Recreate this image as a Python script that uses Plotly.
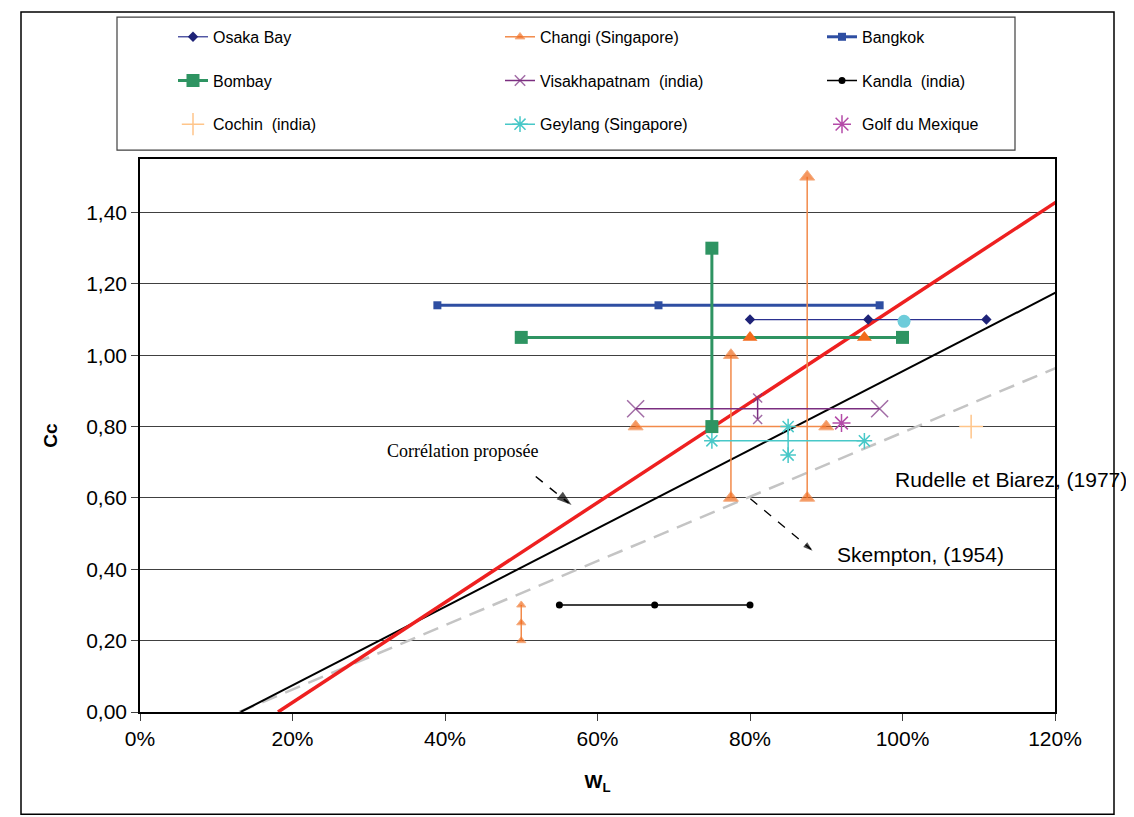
import plotly.graph_objects as go

# ---------------- data ----------------
osaka_x = [0.80, 0.955, 1.11]
osaka_y = [1.10, 1.10, 1.10]

changi_x = [0.65, 0.90, None, 0.775, 0.775, None, 0.875, 0.875, None, 0.50, 0.50, 0.50]
changi_y = [0.80, 0.80, None, 0.60, 1.00, None, 0.60, 1.50, None, 0.20, 0.25, 0.30]
changi_s = [13, 13, 0, 13, 13, 0, 13, 13, 0, 8, 8, 8]
changi_top_x = [0.80, 0.95]
changi_top_y = [1.05, 1.05]

bangkok_x = [0.39, 0.68, 0.97]
bangkok_y = [1.14, 1.14, 1.14]

bombay_x = [0.50, 1.00, None, 0.75, 0.75]
bombay_y = [1.05, 1.05, None, 0.80, 1.30]

visak_x = [0.65, 0.97, None, 0.81, 0.81]
visak_y = [0.85, 0.85, None, 0.82, 0.88]
visak_s = [17, 17, 0, 9, 9]

kandla_x = [0.55, 0.675, 0.80]
kandla_y = [0.30, 0.30, 0.30]

cochin_x = [1.09]
cochin_y = [0.80]

geylang_x = [0.75, 0.95, None, 0.85, 0.85]
geylang_y = [0.76, 0.76, None, 0.72, 0.80]

golf_x = [0.92]
golf_y = [0.81]

extra_x = [1.002]
extra_y = [1.095]

# correlation lines (end points)
prop_x = [0.181, 1.214]
prop_y = [0.0, 1.447]
rud_x = [0.132, 1.214]
rud_y = [0.0, 1.19]
skem_x = [0.13, 1.214]
skem_y = [0.0, 0.976]

x_ticks = [0.0, 0.2, 0.4, 0.6, 0.8, 1.0, 1.2]
x_tick_labels = ["0%", "20%", "40%", "60%", "80%", "100%", "120%"]
y_ticks = [0.0, 0.2, 0.4, 0.6, 0.8, 1.0, 1.2, 1.4]
y_tick_labels = ["0,00", "0,20", "0,40", "0,60", "0,80", "1,00", "1,20", "1,40"]

# ---------------- figure ----------------
W, H = 1134, 817
OFF = 8  # page body margin
ML, MT = 140 - OFF, 155 - OFF
MR, MB = W - (1055 - OFF), H - (712 - OFF)
PW, PH = W - ML - MR, H - MT - MB

def px_x(p):
    return (p - OFF - ML) / PW

def px_y(p):
    return (H - MB - (p - OFF)) / PH

fig = go.Figure()

# regression lines (underneath)
fig.add_trace(go.Scatter(x=skem_x, y=skem_y, mode="lines", showlegend=False,
                         line=dict(color="#C4C4C4", width=2.5, dash="16px,9px")))
fig.add_trace(go.Scatter(x=rud_x, y=rud_y, mode="lines", showlegend=False,
                         line=dict(color="#000000", width=2)))
fig.add_trace(go.Scatter(x=prop_x, y=prop_y, mode="lines", showlegend=False,
                         line=dict(color="#EE2020", width=3.5)))

font_main = "Liberation Sans, Arial, sans-serif"

# legend layout: rows & columns (screen pixel positions of item origins)
row_y = [32, 76, 120]
col_x = [173, 500, 822]

def leg_name(i):
    return "legend" if i == 0 else "legend%d" % (i + 1)

series = []

series.append(dict(name="Osaka Bay", x=osaka_x, y=osaka_y, mode="lines+markers",
                   line=dict(color="#2B3190", width=1.2),
                   marker=dict(symbol="diamond", size=8, color="#1E2378")))
series.append(dict(name="Changi (Singapore)", x=changi_x, y=changi_y, mode="lines+markers",
                   line=dict(color="#F28A4A", width=1.5),
                   marker=dict(symbol="triangle-up", size=changi_s, color="#F26A1B")))
series.append(dict(name="Bangkok", x=bangkok_x, y=bangkok_y, mode="lines+markers",
                   line=dict(color="#2E4EA2", width=3),
                   marker=dict(symbol="square", size=8, color="#2E4EA2")))
series.append(dict(name="Bombay", x=bombay_x, y=bombay_y, mode="lines+markers",
                   line=dict(color="#2E9462", width=3),
                   marker=dict(symbol="square", size=13, color="#2E9462")))
series.append(dict(name="Visakhapatnam  (india)", x=visak_x, y=visak_y, mode="lines+markers",
                   line=dict(color="#7B2E80", width=1.5),
                   marker=dict(symbol="x-thin-open", size=visak_s, color="#7B2E80",
                               line=dict(color="#7B2E80", width=1.5))))
series.append(dict(name="Kandla  (india)", x=kandla_x, y=kandla_y, mode="lines+markers",
                   line=dict(color="#000000", width=1.5),
                   marker=dict(symbol="circle", size=7, color="#000000")))
series.append(dict(name="Cochin  (india)", x=cochin_x, y=cochin_y, mode="markers",
                   marker=dict(symbol="cross-thin-open", size=17, color="#FFC58A",
                               line=dict(color="#FFC58A", width=1.5))))
series.append(dict(name="Geylang (Singapore)", x=geylang_x, y=geylang_y, mode="lines+markers",
                   line=dict(color="#48C8C8", width=1.5),
                   marker=dict(symbol="asterisk-open", size=13, color="#48C8C8",
                               line=dict(color="#48C8C8", width=1.5))))
series.append(dict(name="Golf du Mexique", x=golf_x, y=golf_y, mode="markers",
                   marker=dict(symbol="asterisk-open", size=15, color="#B44BA8",
                               line=dict(color="#B44BA8", width=1.5))))

draw_order = [0, 2, 1, 3, 4, 5, 6, 7, 8]
for i in draw_order:
    s = series[i]
    fig.add_trace(go.Scatter(x=s["x"], y=s["y"], name=s["name"], mode=s["mode"],
                             line=s.get("line"), marker=s["marker"],
                             legend=leg_name(i), connectgaps=False))

# Changi triangles that sit on top of the Bombay line
fig.add_trace(go.Scatter(x=changi_top_x, y=changi_top_y, mode="markers", showlegend=False,
                         marker=dict(symbol="triangle-up", size=13, color="#F26A1B")))
# isolated light-blue point
fig.add_trace(go.Scatter(x=extra_x, y=extra_y, mode="markers", showlegend=False,
                         marker=dict(symbol="circle", size=13, color="#6DCCDA")))

# arrow heads (markers rotated along the arrow direction)
arrow_x = [0.566, 0.882]
arrow_y = [0.580, 0.452]
arrow_angle = [129, 130]
arrow_size = [16, 10]
fig.add_trace(go.Scatter(x=arrow_x, y=arrow_y, mode="markers", showlegend=False,
                         cliponaxis=False,
                         marker=dict(symbol="arrow", size=arrow_size, angle=arrow_angle,
                                     color="#000000", line=dict(width=0))))

legends = {}
for i in range(9):
    r, c = divmod(i, 3)
    legends[leg_name(i)] = dict(
        x=px_x(col_x[c]), y=px_y(row_y[r]), xanchor="left", yanchor="middle",
        orientation="v", bgcolor="rgba(0,0,0,0)", borderwidth=0,
        font=dict(family=font_main, size=16, color="#000000"),
        itemwidth=30, tracegroupgap=0)

annotations = [
    dict(x=0.423, y=0.732, xref="x", yref="y", text="Corrélation proposée", showarrow=False,
         font=dict(family="Liberation Serif, Times New Roman, serif", size=18, color="#000000")),
    dict(x=0.988, y=0.651, xref="x", yref="y", text="Rudelle et Biarez, (1977)", showarrow=False,
         xanchor="left", font=dict(family=font_main, size=21, color="#000000")),
    dict(x=0.911, y=0.4425, xref="x", yref="y", text="Skempton, (1954)", showarrow=False,
         xanchor="left", font=dict(family=font_main, size=21, color="#000000")),
]

shapes = [
    # outer chart frame
    dict(type="rect", xref="paper", yref="paper", x0=px_x(21), x1=px_x(1114), y0=px_y(815), y1=px_y(7),
         line=dict(color="#000000", width=1.5), fillcolor="rgba(0,0,0,0)", layer="below"),
    # legend frame
    dict(type="rect", xref="paper", yref="paper", x0=px_x(117), x1=px_x(1015), y0=px_y(146), y1=px_y(12),
         line=dict(color="#404040", width=1.2), fillcolor="rgba(0,0,0,0)", layer="below"),
    # dashed arrow shafts
    dict(type="line", xref="x", yref="y", x0=0.519, y0=0.660, x1=0.562, y1=0.586,
         line=dict(color="#000000", width=1.5, dash="dash")),
    dict(type="line", xref="x", yref="y", x0=0.8005, y0=0.598, x1=0.880, y1=0.456,
         line=dict(color="#000000", width=1.3, dash="dash")),
]

fig.update_layout(
    width=W, height=H, autosize=False,
    margin=dict(l=ML, r=MR, t=MT, b=MB, pad=0),
    paper_bgcolor="#FFFFFF", plot_bgcolor="#FFFFFF",
    font=dict(family=font_main, size=21, color="#000000"),
    annotations=annotations, shapes=shapes,
    **legends,
)

fig.update_xaxes(range=[0, 1.2], tickvals=x_ticks, ticktext=x_tick_labels,
                 showgrid=False, zeroline=False, showline=True, mirror=True,
                 linecolor="#000000", linewidth=1.5, ticks="outside", ticklen=7,
                 tickcolor="#404040", tickwidth=1,
                 tickfont=dict(family=font_main, size=21, color="#000000"),
                 title=dict(text="<b>W<sub>L</sub></b>", standoff=26,
                            font=dict(family=font_main, size=19, color="#000000")))
fig.update_yaxes(range=[0, 1.55], tickvals=y_ticks, ticktext=y_tick_labels,
                 showgrid=True, gridcolor="#404040", gridwidth=1, zeroline=False,
                 showline=True, mirror=True, linecolor="#000000", linewidth=1.5,
                 ticks="outside", ticklen=7, tickcolor="#404040", tickwidth=1,
                 tickfont=dict(family=font_main, size=21, color="#000000"),
                 title=dict(text="<b>Cc</b>", standoff=24,
                            font=dict(family=font_main, size=19, color="#000000")))

fig.write_html("out.html")
